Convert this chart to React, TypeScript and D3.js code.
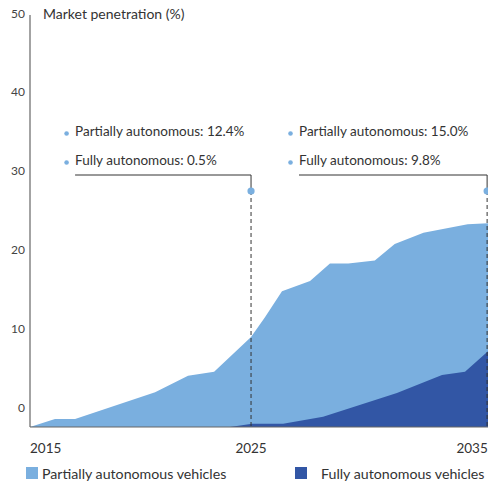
import React from 'react';
import * as d3 from 'd3';

// light area = partially + fully (stacked top), dark area = fully
const combinedYears = [2015, 2016.13, 2017.04, 2020.66, 2022.15, 2023.33, 2025.0, 2025.63, 2026.4, 2027.67, 2028.57, 2029.4, 2030.6, 2031.5, 2032.8, 2034.8, 2035.72];
const combinedShare = [0, 1.0, 1.0, 4.4, 6.5, 7.0, 11.4, 13.9, 17.2, 18.5, 20.7, 20.7, 21.1, 23.2, 24.6, 25.7, 25.8];
const fullyYears = [2015, 2024.05, 2025.05, 2026.45, 2028.26, 2031.6, 2033.64, 2034.68, 2035.72];
const fullyShare = [0, 0, 0.4, 0.4, 1.3, 4.3, 6.6, 7.0, 9.6];

const yTicks = [0, 10, 20, 30, 40, 50];
const xTicks = [2015, 2025, 2035];

const callouts = [
  { year: 2025, lineFrom: 2017.04, lines: ['Partially autonomous: 12.4%', 'Fully autonomous: 0.5%'] },
  { year: 2035.68, lineFrom: 2027.17, lines: ['Partially autonomous: 15.0%', 'Fully autonomous: 9.8%'] },
];

const legendItems = [
  { label: 'Partially autonomous vehicles', color: '#7aafdf', x: 26 },
  { label: 'Fully autonomous vehicles', color: '#3256a5', x: 295 },
];

const LIGHT = '#7aafdf';
const DARK = '#3256a5';
const FONT = 'Lato, "Open Sans", sans-serif';

export default function App() {
  const W = 488;
  const H = 485;
  const left = 30;
  const bottom = 427;

  const x = d3.scaleLinear().domain([2015, 2035.72]).range([left, 488]);
  const y = d3.scaleLinear().domain([0, 52.2]).range([bottom, 15]);
  const labelShift = -19;

  const area = d3.area<[number, number]>()
    .x(d => x(d[0]))
    .y0(bottom)
    .y1(d => y(d[1]));

  const combinedPts = combinedYears.map((yr, i) => [yr, combinedShare[i]] as [number, number]);
  const fullyPts = fullyYears.map((yr, i) => [yr, fullyShare[i]] as [number, number]);

  const calloutLineY = 175;
  const dotY = 191;

  return (
    <svg width={W} height={H} style={{ position: 'absolute', left: 0, top: 0, display: 'block' }} fontFamily={FONT}>
      <rect width={W} height={H} fill="#fff" />
      <path d={area(combinedPts) || ''} fill={LIGHT} />
      <path d={area(fullyPts) || ''} fill={DARK} />

      {/* axes */}
      <line x1={left} x2={left} y1={15} y2={bottom} stroke="#666" strokeWidth={1.2} />
      <line x1={left} x2={W} y1={bottom} y2={bottom} stroke="#666" strokeWidth={1.2} />

      {yTicks.map(t => (
        <text key={t} x={25} y={y(t) + labelShift} dy="0.35em" textAnchor="end" fontSize={12} fill="#444">{t}</text>
      ))}
      <text x={43} y={14} dy="0.35em" fontSize={14} fill="#333">Market penetration (%)</text>

      {xTicks.map((t, i) => (
        <text key={t} x={x(t)} y={448} dy="0.35em" textAnchor={i === 0 ? 'start' : 'middle'} fontSize={13.5} fill="#333">{t}</text>
      ))}

      {/* callouts */}
      {callouts.map((c, i) => {
        const cx = x(c.year);
        const lx = x(c.lineFrom);
        return (
          <g key={i}>
            <line x1={cx} x2={cx} y1={dotY} y2={bottom} stroke="#333" strokeWidth={1} strokeDasharray="4,3" />
            <polyline points={`${lx},${calloutLineY} ${cx},${calloutLineY} ${cx},${dotY}`} fill="none" stroke="#333" strokeWidth={1} />
            <circle cx={cx} cy={dotY} r={3.6} fill={LIGHT} />
            {c.lines.map((ln, j) => (
              <g key={j}>
                <circle cx={lx - 8.5} cy={133.5 + j * 29} r={2.3} fill={LIGHT} />
                <text x={lx} y={131.5 + j * 29} dy="0.35em" fontSize={13.5} fill="#333">{ln}</text>
              </g>
            ))}
          </g>
        );
      })}

      {/* legend */}
      {legendItems.map((it, i) => (
        <g key={i}>
          <rect x={it.x} y={467} width={12} height={12} fill={it.color} />
          <text x={it.x + (i === 0 ? 16 : 26)} y={474} dy="0.35em" fontSize={14.2} fill="#333">{it.label}</text>
        </g>
      ))}
    </svg>
  );
}
